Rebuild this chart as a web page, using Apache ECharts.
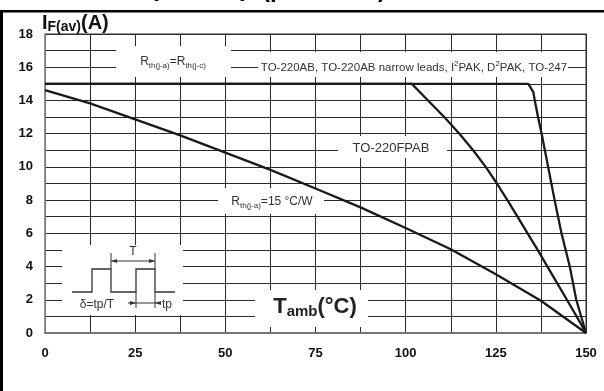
<!DOCTYPE html>
<html>
<head>
<meta charset="utf-8">
<script src="https://cdn.jsdelivr.net/npm/echarts@6/dist/echarts.min.js"></script>
<style>
  html, body { margin: 0; padding: 0; background: #fff; }
  #chart { width: 604px; height: 391px; }
</style>
</head>
<body>
<div id="chart"></div>
<script>
// TO-220AB etc. (Rth(j-a)=Rth(j-c))
const tempA = [0, 134, 135.4, 135.8, 136.7, 137.7, 139.5, 141.3, 143.2, 145.5, 147.3, 150]
const currA = [15, 15, 14.5, 14, 13, 12, 10, 8, 6, 4, 2, 0]
// TO-220FPAB
const tempB = [0, 101.7, 106.2, 110.7, 114.9, 118.7, 122.2, 125.3, 128.2, 131, 133.8, 136.6, 139.3, 142, 144.7, 147.4, 150]
const currB = [15, 15, 14, 13, 12, 11, 10, 9, 8, 7, 6, 5, 4, 3, 2, 1, 0]
// Rth(j-a)=15 °C/W
const tempC = [0, 12.5, 25, 37.5, 50, 62.5, 75, 87.5, 100, 112.5, 125, 137.5, 150]
const currC = [14.62, 13.82, 12.86, 11.9, 10.86, 9.82, 8.7, 7.56, 6.32, 5.04, 3.54, 1.94, 0]

const xTickLabels = [0, 25, 50, 75, 100, 125, 150]
const yTickLabels = [0, 2, 4, 6, 8, 10, 12, 14, 16, 18]

const FONT = '"Liberation Sans", Arial, Helvetica, sans-serif'
const INK = '#333'

const chart = echarts.init(document.getElementById('chart'))

const pairs = (xs, ys) => xs.map((x, i) => [x, ys[i]])

const box = (x1, y1, x2, y2) => ({
  type: 'rect', z: 1,
  shape: { x: x1, y: y1, width: x2 - x1, height: y2 - y1 },
  style: { fill: '#fff' }
})
const seg = (x1, y1, x2, y2, w = 1.2) => ({
  type: 'line', z: 5,
  shape: { x1, y1, x2, y2 },
  style: { stroke: INK, lineWidth: w }
})
const tri = pts => ({
  type: 'polygon', z: 5,
  shape: { points: pts },
  style: { fill: INK }
})
const label = (x, y, text, rich, extra = {}) => ({
  type: 'text', z: 6, x, y,
  style: Object.assign({
    text,
    fill: INK,
    fontFamily: FONT,
    fontSize: 12,
    align: 'center', textAlign: 'center',
    verticalAlign: 'middle', textVerticalAlign: 'middle',
    rich
  }, extra)
})

const subRich = {
  r: { fontSize: 12, fontFamily: FONT, fill: INK, lineHeight: 16, verticalAlign: 'middle' },
  s: { fontSize: 8, fontFamily: FONT, fill: INK, lineHeight: 9, verticalAlign: 'bottom' }
}
const supRich = {
  r: { fontSize: 11.5, fontFamily: FONT, fill: INK, lineHeight: 16, verticalAlign: 'middle' },
  p: { fontSize: 8, fontFamily: FONT, fill: INK, lineHeight: 9, verticalAlign: 'top' }
}

const graphics = [
  // outer frame
  { type: 'rect', z: 6, shape: { x: 0, y: 10, width: 604, height: 2.5 }, style: { fill: '#000' } },
  { type: 'rect', z: 6, shape: { x: 0, y: 10, width: 3, height: 381 }, style: { fill: '#000' } },
  // cropped caption above frame
  { type: 'text', z: 6, x: 150, y: 2,
    style: { text: '(δ = 0.5)', fill: '#000', fontFamily: FONT, fontSize: 26, fontWeight: 'bold',
      align: 'left', textAlign: 'left', verticalAlign: 'bottom', textVerticalAlign: 'bottom' } },
  { type: 'text', z: 6, x: 262, y: 2,
    style: { text: '(per diode)', fill: '#000', fontFamily: FONT, fontSize: 24, fontWeight: 'bold',
      align: 'left', textAlign: 'left', verticalAlign: 'bottom', textVerticalAlign: 'bottom' } },

  // y axis title
  { type: 'text', z: 6, x: 42, y: 23,
    style: {
      text: '{b|I}{s|F(av)}{b|(A)}',
      fill: '#111',
      align: 'left', textAlign: 'left', verticalAlign: 'middle', textVerticalAlign: 'middle',
      rich: {
        b: { fontSize: 20, fontWeight: 'bold', fontFamily: FONT, fill: '#111', lineHeight: 22, verticalAlign: 'middle' },
        s: { fontSize: 14, fontWeight: 'bold', fontFamily: FONT, fill: '#111', lineHeight: 14, verticalAlign: 'bottom' }
      }
    } },

  // annotation boxes
  box(116, 46, 231, 77),
  label(173, 62, '{r|R}{s|th(j-a)}{r|=R}{s|th(j-c)}', subRich),
  box(258, 52, 568, 77),
  label(414, 68, '{r|TO-220AB, TO-220AB narrow leads, I}{p|2}{r|PAK, D}{p|2}{r|PAK, TO-247}', supRich),
  box(338, 136, 447, 158),
  label(391, 148, 'TO-220FPAB', null, { fontSize: 13 }),
  box(218, 188, 324, 214),
  label(272, 202, '{r|R}{s|th(j-a)}{r|=15 °C/W}', subRich),
  box(255, 290, 368, 327),
  label(315, 307, '{b|T}{s|amb}{b|(°C)}', {
    b: { fontSize: 22, fontWeight: 'bold', fontFamily: FONT, fill: '#222', lineHeight: 24, verticalAlign: 'middle' },
    s: { fontSize: 15, fontWeight: 'bold', fontFamily: FONT, fill: '#222', lineHeight: 15, verticalAlign: 'bottom' }
  }),

  // pulse inset
  box(62, 245, 183, 315),
  { type: 'polyline', z: 5,
    shape: { points: [[72, 292], [92, 292], [92, 269], [111, 269], [111, 292], [136, 292], [136, 269], [155, 269], [155, 292], [175, 292]] },
    style: { stroke: INK, lineWidth: 1.3, fill: null } },
  seg(111, 253, 111, 269, 1),
  seg(155, 253, 155, 269, 1),
  seg(111, 261, 155, 261, 1),
  tri([[111, 261], [117, 259], [117, 263]]),
  tri([[155, 261], [149, 259], [149, 263]]),
  label(133, 252, 'T', null, { fontSize: 12 }),
  seg(136, 292, 136, 308, 1),
  seg(155, 292, 155, 308, 1),
  seg(128, 303, 160, 303, 1),
  tri([[136, 303], [130, 301], [130, 305]]),
  tri([[155, 303], [161, 301], [161, 305]]),
  label(97, 305, 'δ=tp/T', null, { fontSize: 12 }),
  label(167, 305, 'tp', null, { fontSize: 12 })
]

const curve = (name, xs, ys) => ({
  name,
  type: 'line',
  z: 3,
  data: pairs(xs, ys),
  symbol: 'none',
  smooth: false,
  silent: true,
  lineStyle: { color: '#1a1a1a', width: 2.3 }
})

const option = {
  animation: false,
  backgroundColor: '#fff',
  textStyle: { fontFamily: FONT },
  grid: {
    left: 45, right: 18, top: 34, bottom: 58,
    show: true, borderColor: '#777', borderWidth: 1.5
  },
  xAxis: {
    type: 'value',
    min: 0, max: 150, interval: 12.5,
    axisLine: { show: true, lineStyle: { color: '#777', width: 2 } },
    axisTick: { show: false },
    splitLine: { show: true, lineStyle: { color: '#2a2a2a', width: 1 } },
    axisLabel: {
      margin: 14,
      color: '#111', fontSize: 13, fontWeight: 'bold', fontFamily: FONT,
      formatter: v => xTickLabels.includes(v) ? String(v) : ''
    }
  },
  yAxis: {
    type: 'value',
    min: 0, max: 18, interval: 1,
    axisLine: { show: true, lineStyle: { color: '#777', width: 1 } },
    axisTick: { show: false },
    splitLine: { show: true, lineStyle: { color: '#2a2a2a', width: 1 } },
    axisLabel: {
      margin: 12,
      color: '#111', fontSize: 13, fontWeight: 'bold', fontFamily: FONT,
      formatter: v => yTickLabels.includes(v) ? String(v) : ''
    }
  },
  graphic: graphics,
  series: [
    curve('TO-220AB', tempA, currA),
    curve('TO-220FPAB', tempB, currB),
    curve('Rth15', tempC, currC)
  ]
}

chart.setOption(option)
</script>
</body>
</html>
